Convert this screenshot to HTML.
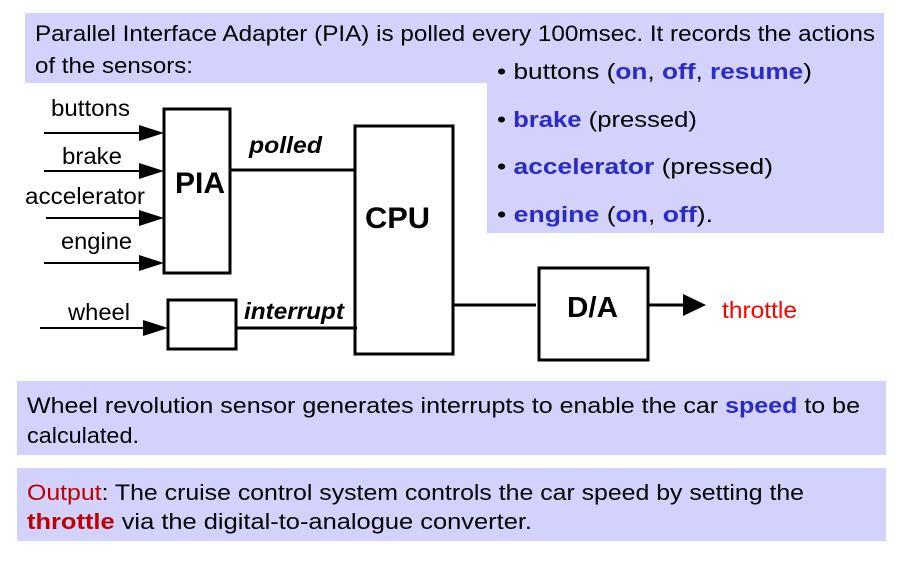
<!DOCTYPE html>
<html><head><meta charset="utf-8"><style>
html,body{margin:0;padding:0;background:#fff;}
svg{display:block;}
text{font-family:"Liberation Sans",sans-serif;}
</style></head><body>
<svg width="901" height="562" viewBox="0 0 901 562" xmlns="http://www.w3.org/2000/svg">
<rect x="25" y="13" width="859" height="70" fill="#d2d2fd"/>
<rect x="487" y="13" width="397" height="220" fill="#d2d2fd"/>
<rect x="17" y="381" width="869" height="74" fill="#d2d2fd"/>
<rect x="17" y="468" width="869" height="73" fill="#d2d2fd"/>

<g font-size="22" fill="#000">
<text x="35" y="41" textLength="840" lengthAdjust="spacingAndGlyphs">Parallel Interface Adapter (PIA) is polled every 100msec. It records the actions</text>
<text x="35" y="73" textLength="158" lengthAdjust="spacingAndGlyphs">of the sensors:</text>
<text x="497" y="79" textLength="315" lengthAdjust="spacingAndGlyphs">• buttons (<tspan fill="#2a2ac4" font-weight="bold">on</tspan>, <tspan fill="#2a2ac4" font-weight="bold">off</tspan>, <tspan fill="#2a2ac4" font-weight="bold">resume</tspan>)</text>
<text x="497" y="127" textLength="200" lengthAdjust="spacingAndGlyphs">• <tspan fill="#2a2ac4" font-weight="bold">brake</tspan> (pressed)</text>
<text x="497" y="174" textLength="276" lengthAdjust="spacingAndGlyphs">• <tspan fill="#2a2ac4" font-weight="bold">accelerator</tspan> (pressed)</text>
<text x="497" y="222" textLength="216" lengthAdjust="spacingAndGlyphs">• <tspan fill="#2a2ac4" font-weight="bold">engine</tspan> (<tspan fill="#2a2ac4" font-weight="bold">on</tspan>, <tspan fill="#2a2ac4" font-weight="bold">off</tspan>).</text>
<text x="27" y="413" textLength="833" lengthAdjust="spacingAndGlyphs">Wheel revolution sensor generates interrupts to enable the car <tspan fill="#2a2ac4" font-weight="bold">speed</tspan> to be</text>
<text x="27" y="443" textLength="112" lengthAdjust="spacingAndGlyphs">calculated.</text>
<text x="27" y="500" textLength="777" lengthAdjust="spacingAndGlyphs"><tspan fill="#c00000">Output</tspan>: The cruise control system controls the car speed by setting the</text>
<text x="27" y="529" textLength="505" lengthAdjust="spacingAndGlyphs"><tspan fill="#c00000" font-weight="bold">throttle</tspan> via the digital-to-analogue converter.</text>
</g>

<g stroke="#000" stroke-width="3" fill="none">
<rect x="164" y="109" width="66" height="164"/>
<rect x="355" y="126" width="98" height="228"/>
<rect x="168" y="300" width="68" height="49"/>
<rect x="539" y="268" width="109" height="92"/>
<line x1="230" y1="170" x2="354" y2="170"/>
<line x1="236" y1="328" x2="357" y2="328"/>
<line x1="453" y1="305" x2="536" y2="305"/>
</g>
<g stroke="#000" stroke-width="2">
<line x1="44" y1="133" x2="145" y2="133"/>
<line x1="44" y1="171" x2="145" y2="171"/>
<line x1="46" y1="218" x2="145" y2="218"/>
<line x1="44" y1="263" x2="145" y2="263"/>
<line x1="40" y1="328" x2="148" y2="328"/>
<line x1="648" y1="305" x2="685" y2="305" stroke-width="3"/>
</g>
<g fill="#000">
<polygon points="139,125 164,133 139,141"/>
<polygon points="139,163 164,171 139,179"/>
<polygon points="139,210 164,218 139,226"/>
<polygon points="139,255 164,263 139,271"/>
<polygon points="143,320 168,328 143,336"/>
<polygon points="683,294 706,305 683,316"/>
</g>
<g font-size="23" fill="#000">
<text x="51" y="116" textLength="79" lengthAdjust="spacingAndGlyphs">buttons</text>
<text x="62" y="164" textLength="60" lengthAdjust="spacingAndGlyphs">brake</text>
<text x="25" y="204" textLength="120" lengthAdjust="spacingAndGlyphs">accelerator</text>
<text x="61" y="249" textLength="71" lengthAdjust="spacingAndGlyphs">engine</text>
<text x="68" y="320" textLength="62" lengthAdjust="spacingAndGlyphs">wheel</text>
</g>
<g font-weight="bold" fill="#000">
<text x="175" y="193" font-size="30" textLength="50" lengthAdjust="spacingAndGlyphs">PIA</text>
<text x="365" y="228" font-size="30" textLength="65" lengthAdjust="spacingAndGlyphs">CPU</text>
<text x="567" y="317" font-size="29" textLength="51" lengthAdjust="spacingAndGlyphs">D/A</text>
<text x="249" y="153" font-size="23" font-style="italic" textLength="73" lengthAdjust="spacingAndGlyphs">polled</text>
<text x="244" y="319" font-size="23" font-style="italic" textLength="100" lengthAdjust="spacingAndGlyphs">interrupt</text>
</g>
<text x="722" y="318" font-size="23" fill="#ff0000" textLength="75" lengthAdjust="spacingAndGlyphs">throttle</text>
</svg>
</body></html>
